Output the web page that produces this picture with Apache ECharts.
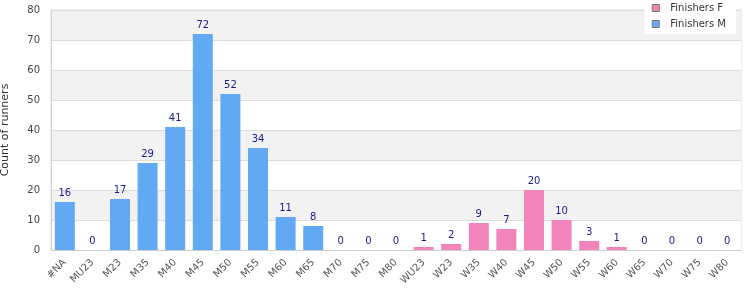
<!DOCTYPE html>
<html>
<head>
<meta charset="utf-8">
<script src="https://cdn.jsdelivr.net/npm/echarts@6/dist/echarts.min.js"></script>
<style>
  html, body { margin: 0; padding: 0; background: #fff; }
  #chart { width: 750px; height: 300px; }
</style>
</head>
<body>
<div id="chart"></div>
<script>
const categories = ["#NA", "MU23", "M23", "M35", "M40", "M45", "M50", "M55", "M60", "M65", "M70", "M75", "M80",
  "WU23", "W23", "W35", "W40", "W45", "W50", "W55", "W60", "W65", "W70", "W75", "W80"];
const finishersM = [16, 0, 17, 29, 41, 72, 52, 34, 11, 8, 0, 0, 0,
  null, null, null, null, null, null, null, null, null, null, null, null];
const finishersF = [null, null, null, null, null, null, null, null, null, null, null, null, null,
  1, 2, 9, 7, 20, 10, 3, 1, 0, 0, 0, 0];

const font = "DejaVu Sans";
const labelStyle = { show: true, position: "top", color: "#1a1a8c", fontSize: 10, fontFamily: font, distance: 4 };

const chart = echarts.init(document.getElementById("chart"));
chart.setOption({
  animation: false,
  grid: {
    left: 51, right: 9, top: 10, bottom: 50,
    outerBoundsMode: "none",
    show: true, borderColor: "#dcdcdc", borderWidth: 1,
  },
  legend: {
    orient: "vertical",
    right: 14,
    top: 0,
    backgroundColor: "#fff",
    padding: [2, 10, 4, 7],
    itemWidth: 7,
    itemHeight: 7,
    itemGap: 4,
    icon: "rect",
    textStyle: { fontFamily: font, fontSize: 10, color: "#333", lineHeight: 12, padding: [0, 0, 0, 6] },
    data: [
      { name: "Finishers F", itemStyle: { borderColor: "#777", borderWidth: 1 } },
      { name: "Finishers M", itemStyle: { borderColor: "#777", borderWidth: 1 } },
    ],
  },
  xAxis: {
    type: "category",
    data: categories,
    axisLine: { lineStyle: { color: "#cfcfcf" } },
    axisTick: { show: false },
    axisLabel: { rotate: 45, interval: 0, color: "#555", fontSize: 10, fontFamily: font, margin: 11 },
  },
  yAxis: {
    type: "value",
    min: 0,
    max: 80,
    interval: 10,
    name: "Count of runners",
    nameLocation: "middle",
    nameGap: 40,
    nameTextStyle: { fontFamily: font, fontSize: 11, color: "#333" },
    axisLine: { show: true, lineStyle: { color: "#cfcfcf" } },
    axisTick: { show: false },
    axisLabel: { color: "#444", fontSize: 10, fontFamily: font, margin: 11 },
    splitLine: { lineStyle: { color: "#dcdcdc" } },
    splitArea: { show: true, areaStyle: { color: ["#ffffff", "#f2f2f2"] } },
  },
  series: [
    {
      name: "Finishers F",
      type: "bar",
      stack: "all",
      barWidth: 20,
      data: finishersF,
      itemStyle: { color: "#f283bb" },
      label: labelStyle,
    },
    {
      name: "Finishers M",
      type: "bar",
      stack: "all",
      barWidth: 20,
      data: finishersM,
      itemStyle: { color: "#61a9f2" },
      label: labelStyle,
    },
  ],
});
</script>
</body>
</html>
